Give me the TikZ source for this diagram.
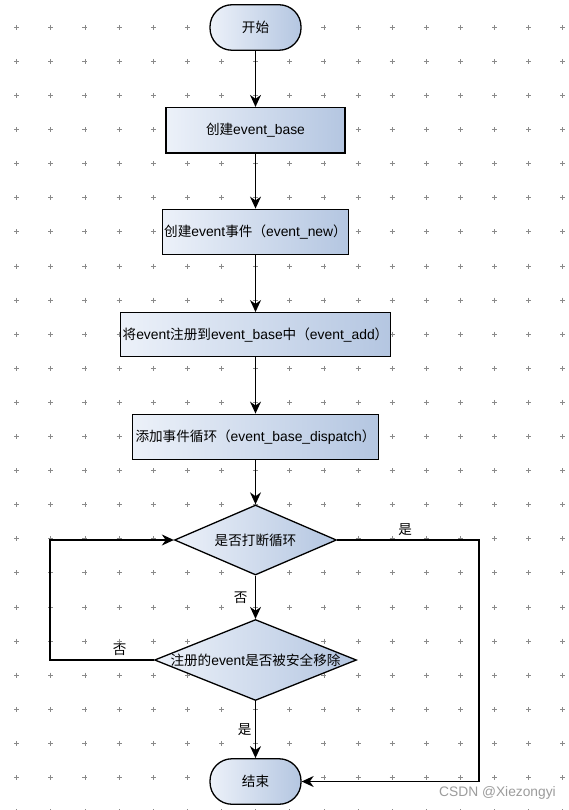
\documentclass[tikz,border=0pt]{standalone}
\usepackage{fontspec}
\setmainfont[Scale=1.02]{Liberation Sans}
\newfontfamily\cjk{Noto Sans CJK SC}
\usetikzlibrary{arrows.meta,shapes.geometric}
\definecolor{fillL}{HTML}{ECF1F9}
\definecolor{fillR}{HTML}{B4C6E1}
\definecolor{dotgray}{HTML}{8A8A8A}
\definecolor{wmgray}{HTML}{9C9C9C}
\begin{document}
\begin{tikzpicture}[x=1pt,y=-1pt,
    every node/.style={font=\fontsize{13.6}{15}\selectfont},
    box/.style={draw,line width=1.3pt,left color=fillL,right color=fillR,minimum height=45.5pt,inner sep=0pt},
    term/.style={box,rounded corners=22pt,minimum width=91pt},
    cond/.style={draw,diamond,line width=1.3pt,left color=fillL,right color=fillR,inner sep=0pt},
    flow/.style={line width=1.3pt,-{Stealth[length=12pt,width=11pt]}}]
    \useasboundingbox (0,0) rectangle (568,810);
    \fill[white] (0,0) rectangle (568,810);
    \foreach \i in {0,...,16}
        \foreach \j in {0,...,23}
            \draw[dotgray,line width=0.9pt] ({16.7+34.14*\i-2.5},{27.3+34.1*\j}) -- ++(5,0)
                ({16.7+34.14*\i},{27.3+34.1*\j-2.5}) -- ++(0,5);
    \node[term] (start) at (255.5,27.5) {\cjk 开始};
    \node[box,minimum width=179pt] (base) at (255.5,130.3) {{\cjk 创建}event\_base};
    \node[box,minimum width=186pt] (newev) at (255.5,232) {{\cjk 创建}event{\cjk 事件（}event\_new{\cjk ）}};
    \node[box,minimum width=270pt,minimum height=44pt] (addev) at (255.5,334.7) {{\cjk 将}event{\cjk 注册到}event\_base{\cjk 中（}event\_add{\cjk ）}};
    \node[box,minimum width=246pt] (loop) at (255.5,437) {{\cjk 添加事件循环（}event\_base\_dispatch{\cjk ）}};
    \node[cond,minimum width=162pt,minimum height=70pt,label=center:{\cjk 是否打断循环}] (brk) at (255.5,540) {};
    \node[cond,minimum width=202pt,minimum height=81pt,label=center:{{\cjk 注册的}event{\cjk 是否被安全移除}}] (rmv) at (255.5,660) {};
    \node[term] (stop) at (255.5,781.5) {\cjk 结束};
    \coordinate (lx) at (50,0);
    \coordinate (rx) at (479,0);
    \draw[flow] (start) -- (base);
    \draw[flow] (base) -- (newev);
    \draw[flow] (newev) -- (addev);
    \draw[flow] (addev) -- (loop);
    \draw[flow] (loop) -- (brk);
    \draw[flow] (brk) -- node[left,xshift=-4pt]{\cjk 否} (rmv);
    \draw[flow] (rmv) -- node[left]{\cjk 是} (stop);
    \draw[flow] (rmv.west) -- node[above,pos=0.33]{\cjk 否} (rmv.west -| lx) |- (brk.west);
    \draw[flow] (brk.east) -- node[above,pos=0.48]{\cjk 是} (brk.east -| rx) |- (stop.east);
    \node[text=wmgray,font=\fontsize{13.5}{15}\selectfont] (mark) at (497.5,793) {CSDN @Xiezongyi};
\end{tikzpicture}
\end{document}
